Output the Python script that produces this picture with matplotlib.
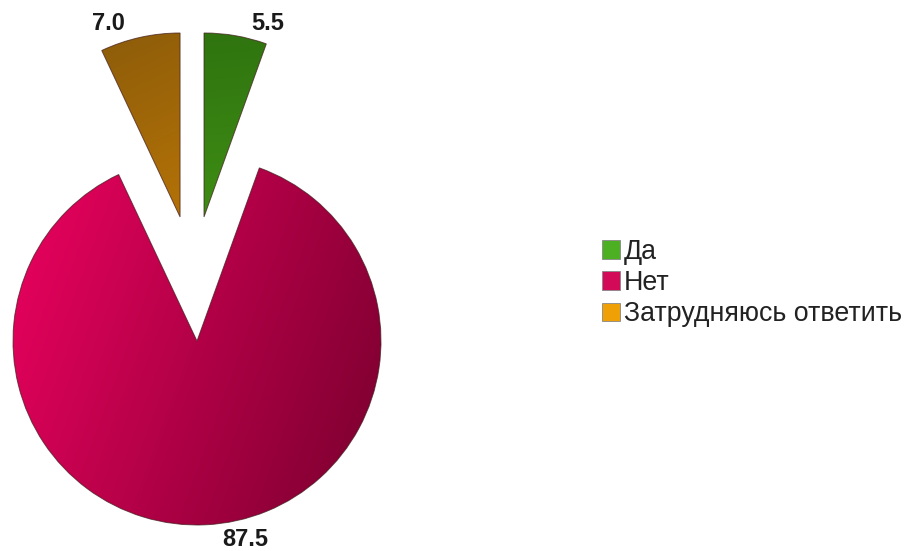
import numpy as np
import matplotlib
matplotlib.use('Agg')
import matplotlib.pyplot as plt
from matplotlib.colors import LinearSegmentedColormap
from matplotlib.patches import Patch

plt.rcParams['font.family'] = ['Liberation Sans', 'DejaVu Sans']

labels = ['Да', 'Нет', 'Затрудняюсь ответить']
values = [5.5, 87.5, 7.0]

# flat colours (legend swatches) and gradient ends for the slices
colors = ['#4DAF22', '#D20A58', '#EFA004']
grad_light = ['#4EA81A', '#EE0260', '#E58E04']
grad_dark = ['#2E720F', '#78002E', '#84570A']
grad_angle = [95, -20, 115]   # direction from light to dark, degrees

# slice offsets (pulled-out pieces) and label anchors, in radius units
offsets = [(0.038, 0.674), (0.0, 0.0), (-0.092, 0.674)]
label_xy = [(0.383, 1.726), (0.261, -1.078), (-0.481, 1.728)]


def gradient_fill(ax, wedge, light, dark, angle):
    cx, cy = wedge.center
    r = wedge.r
    n = 300
    xs = np.linspace(-1, 1, n)
    X, Y = np.meshgrid(xs, xs)
    a = np.deg2rad(angle)
    t = X * np.cos(a) + Y * np.sin(a)
    t = (t - t.min()) / (t.max() - t.min())
    cmap = LinearSegmentedColormap.from_list('g', [light, dark])
    im = ax.imshow(t, cmap=cmap, origin='lower', interpolation='bilinear',
                   extent=(cx - r, cx + r, cy - r, cy + r), zorder=2)
    im.set_clip_path(wedge)


fig = plt.figure(figsize=(9.08, 5.51), dpi=100)
ax = fig.add_axes([0, 0, 1, 1])

wedges, _ = ax.pie(values, startangle=90, counterclock=False, radius=1,
                   colors=colors,
                   wedgeprops=dict(edgecolor=(0.25, 0.1, 0.1, 0.7), linewidth=0.7, zorder=3))

for w, off, lt, dk, ang in zip(wedges, offsets, grad_light, grad_dark, grad_angle):
    w.set_center(off)
    gradient_fill(ax, w, lt, dk, ang)
    w.set_facecolor('none')

for v, (x, y) in zip(values, label_xy):
    ax.text(x, y, f'{v:.1f}', ha='center', va='center', fontsize=17,
            fontweight='bold', color='#1a1a1a', zorder=5)

# legend uses flat colours
handles = [Patch(facecolor=c, edgecolor='#888888', linewidth=0.6) for c in colors]
ax.legend(handles, labels, loc='upper left', bbox_to_anchor=(602 / 908, 1 - 239 / 551),
          bbox_transform=fig.transFigure, frameon=False, fontsize=19.3,
          handlelength=0.68, handleheight=0.68, handletextpad=0.15,
          labelspacing=0.19, borderpad=0, borderaxespad=0, labelcolor='#222222')

ax.set_xlim(-197 / 184, (908 - 197) / 184)
ax.set_ylim(-(551 - 341) / 184, 341 / 184)
ax.set_aspect('equal')
ax.axis('off')

fig.savefig('out.png', dpi=100, facecolor='white')
